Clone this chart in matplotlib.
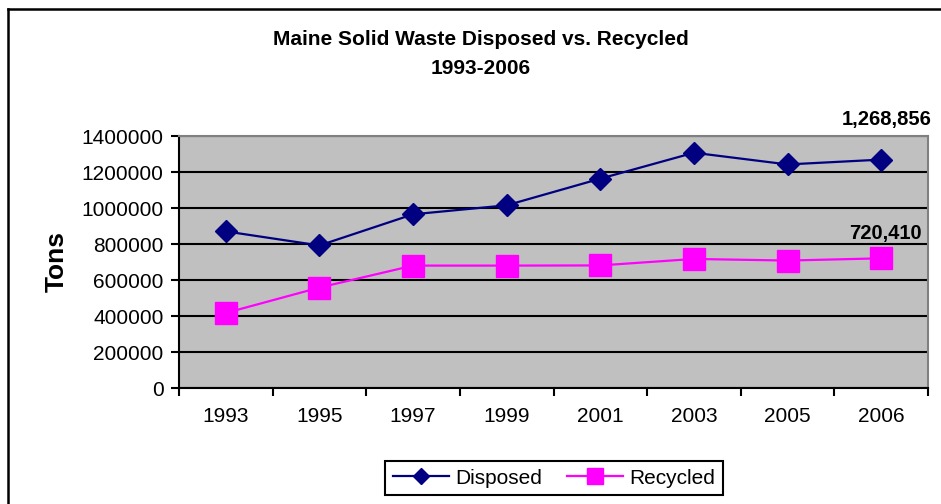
import matplotlib
matplotlib.use("Agg")
import matplotlib.pyplot as plt
from matplotlib.lines import Line2D

plt.rcParams['font.family'] = ['Liberation Sans', 'DejaVu Sans']

years = ["1993", "1995", "1997", "1999", "2001", "2003", "2005", "2006"]
disposed = [870000, 792000, 965000, 1015000, 1163000, 1307000, 1242000, 1268856]
recycled = [417000, 558000, 680000, 680000, 681000, 717000, 708000, 720410]
disposed_label = "1,268,856"
recycled_label = "720,410"
yticks = [0, 200000, 400000, 600000, 800000, 1000000, 1200000, 1400000]

W, H = 941, 504
fig = plt.figure(figsize=(W / 100, H / 100), dpi=100)

ax = fig.add_axes([179 / W, 1 - 388 / H, (928 - 179) / W, (388 - 136) / H])
ax.set_facecolor('#C0C0C0')
x = list(range(len(years)))

ax.plot(x, disposed, color='#000080', lw=1.6, marker='D', ms=11,
        mfc='#000080', mec='#000080', label='Disposed', zorder=4)
ax.plot(x, recycled, color='#FF00FF', lw=1.6, marker='s', ms=16,
        mfc='#FF00FF', mec='#FF00FF', label='Recycled', zorder=3)

ax.set_xlim(-0.5, len(years) - 0.5)
ax.set_ylim(0, 1400000)
ax.set_yticks(yticks)
ax.set_yticklabels([str(v) for v in yticks])
ax.yaxis.grid(True, color='black', lw=1.5)
ax.set_axisbelow(True)

ax.set_xticks(x)
ax.set_xticklabels(years)
ax.set_xticks([i - 0.5 for i in range(len(years) + 1)], minor=True)
ax.tick_params(axis='x', which='major', length=0, pad=14, labelsize=15)
ax.tick_params(axis='x', which='minor', length=6, width=1.5, color='black', direction='out')
ax.tick_params(axis='y', length=6, width=1.5, color='black', direction='out', pad=5, labelsize=15)

for s in ['left', 'bottom']:
    ax.spines[s].set_color('black')
    ax.spines[s].set_linewidth(1.5)
for s in ['top', 'right']:
    ax.spines[s].set_color('#808080')
    ax.spines[s].set_linewidth(1.5)

ax.set_ylabel('Tons', fontsize=19, fontweight='bold', labelpad=9)

ax.annotate(disposed_label, xy=(x[-1], disposed[-1]), xytext=(4, 29),
            textcoords='offset points', ha='center', va='center',
            fontsize=14.5, fontweight='bold')
ax.annotate(recycled_label, xy=(x[-1], recycled[-1]), xytext=(3, 18),
            textcoords='offset points', ha='center', va='center',
            fontsize=14.5, fontweight='bold')

fig.text(481 / W, 1 - 40 / H, 'Maine Solid Waste Disposed vs. Recycled',
         ha='center', va='center', fontsize=15, fontweight='bold')
fig.text(481 / W, 1 - 68 / H, '1993-2006',
         ha='center', va='center', fontsize=15, fontweight='bold')

leg = fig.legend(loc='center', bbox_to_anchor=(554 / W, 1 - 478 / H), ncol=2,
                 fontsize=15, frameon=True, fancybox=False, edgecolor='black',
                 framealpha=1, handlelength=2.7, markerscale=0.72,
                 columnspacing=1.2, handletextpad=0.3, borderpad=0.35)
leg.get_frame().set_linewidth(1.5)

# outer chart border
fig.add_artist(Line2D([8 / W, 1], [1 - 9 / H, 1 - 9 / H], transform=fig.transFigure,
                      color='black', lw=1.8))
fig.add_artist(Line2D([8 / W, 8 / W], [0, 1 - 9 / H], transform=fig.transFigure,
                      color='black', lw=1.8))

fig.savefig('out.png', dpi=100)
